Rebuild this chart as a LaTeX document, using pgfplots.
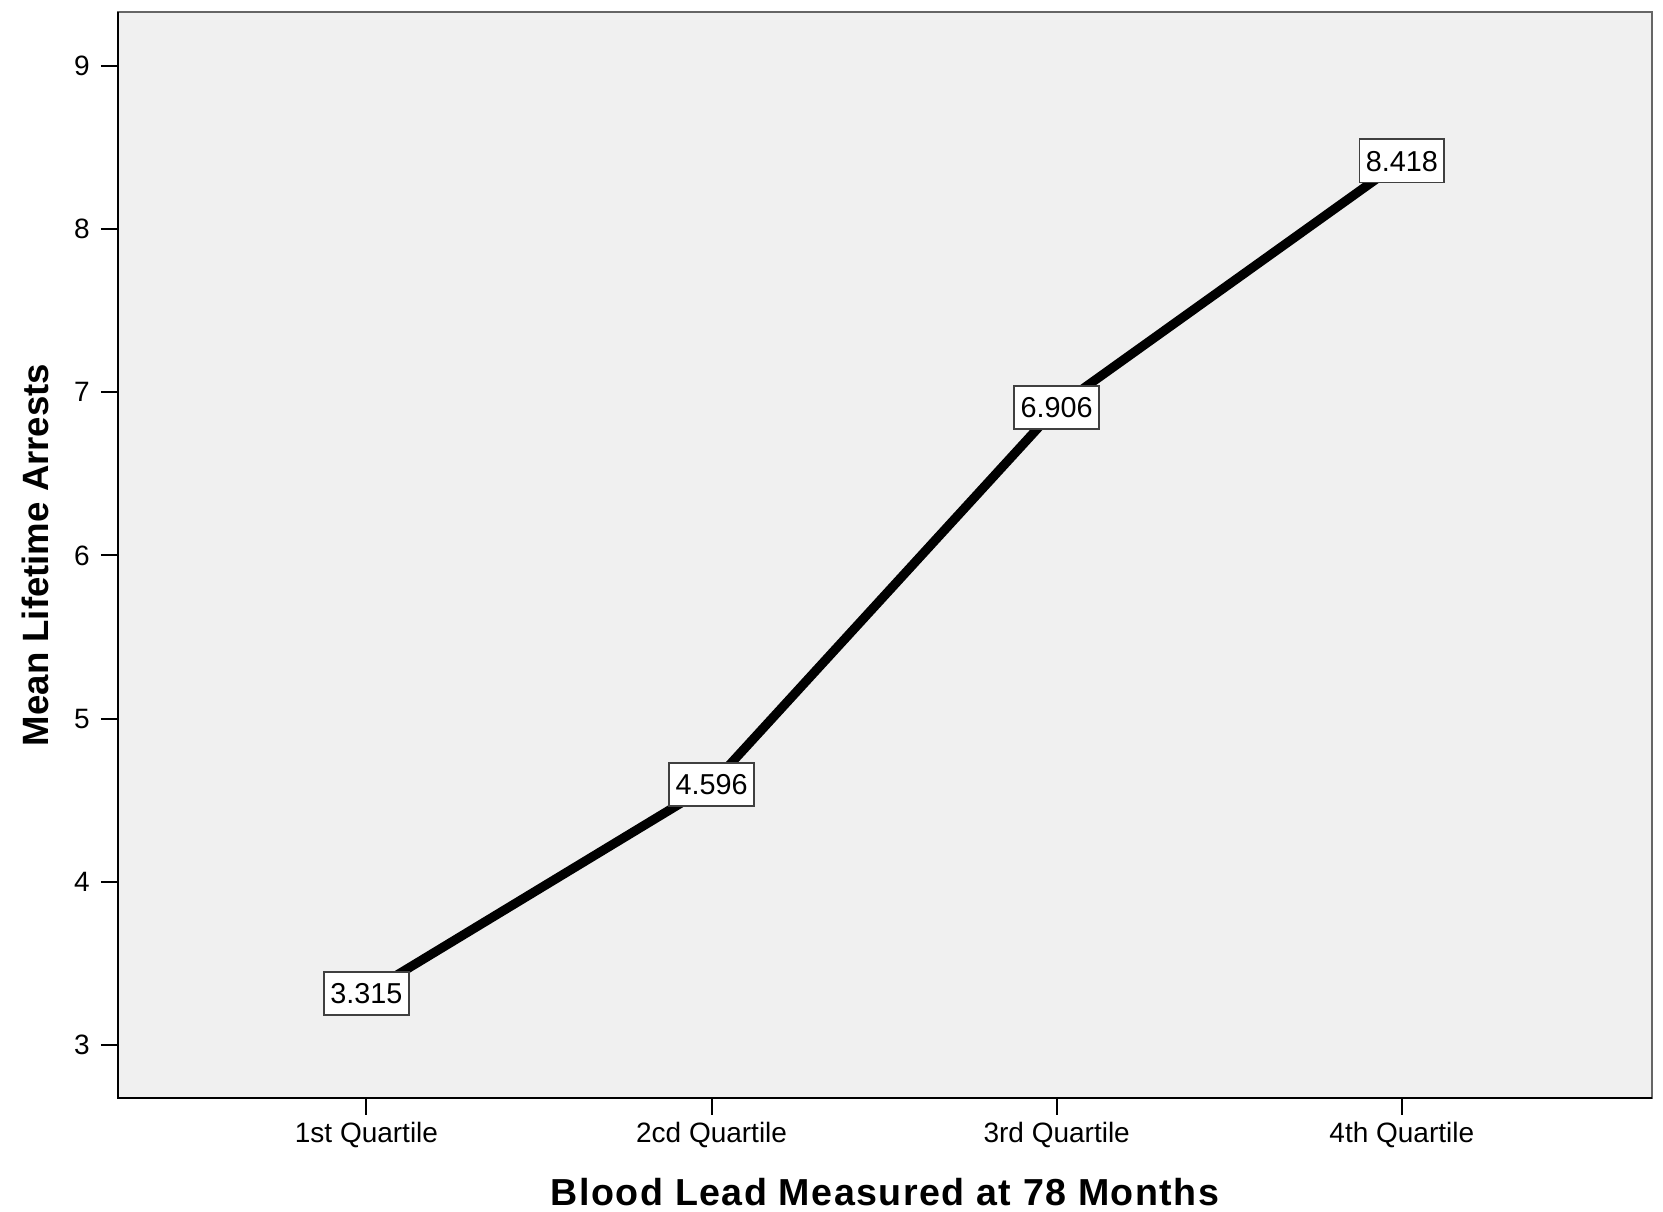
\documentclass[border=0pt]{standalone}
\usepackage{fontspec}
\setmainfont{Liberation Sans}
\usepackage{pgfplots}
\pgfplotsset{compat=1.18}
\definecolor{bg}{HTML}{F0F0F0}
\begin{document}
\begin{tikzpicture}
\begin{axis}[
  scale only axis, width=383.5pt, height=271.5pt,
  xmin=0.28, xmax=4.725, ymin=2.675, ymax=9.33,
  xtick={1,2,3,4},
  xticklabels={1st Quartile,2cd Quartile,3rd Quartile,4th Quartile},
  ytick={3,4,5,6,7,8,9},
  xtick pos=bottom, ytick pos=left,
  tick align=outside, major tick length=4.25pt,
  tick style={black, line width=0.5pt},
  axis background/.style={fill=bg},
  axis line style={draw=black!60, line width=0.45pt},
  tick label style={font=\fontsize{7}{8}\selectfont},
  xticklabel style={yshift=1.8pt},
  yticklabel style={xshift=0.7pt},
  /pgf/number format/assume math mode=true,
  xlabel={\addfontfeature{LetterSpace=3.8}Blood Lead Measured at 78 Months},
  ylabel={Mean Lifetime Arrests},
  xlabel style={font=\bfseries\fontsize{9.4}{11}\selectfont, at={([yshift=-23.5pt]rel axis cs:0.5,0)}, anchor=center},
  ylabel style={font=\bfseries\fontsize{9.15}{11}\selectfont, at={([xshift=-20.75pt]rel axis cs:0,0.5)}, anchor=center},
  clip=false,
]
\draw[black, line width=0.5pt] (rel axis cs:0,1) -- (rel axis cs:0,0) -- (rel axis cs:1,0);
\addplot[black, line width=2.3pt, mark=none,
  nodes near coords,
  point meta=explicit symbolic,
  every node near coord/.style={anchor=center, fill=white, draw=black!75, line width=0.4pt,
    inner xsep=1.6pt, inner ysep=2.8pt, text height=5.2pt, text depth=0pt,
    font=\fontsize{7.2}{8}\selectfont, text=black},
] coordinates {
  (1,3.315) [3.315]
  (2,4.596) [4.596]
  (3,6.906) [6.906]
  (4,8.418) [8.418]
};
\end{axis}
\pgfresetboundingbox
\path[use as bounding box] ([shift={(-29.5pt,-28.5pt)}]current axis.south west) rectangle ([shift={(2.75pt,3pt)}]current axis.north east);
\end{tikzpicture}
\end{document}
